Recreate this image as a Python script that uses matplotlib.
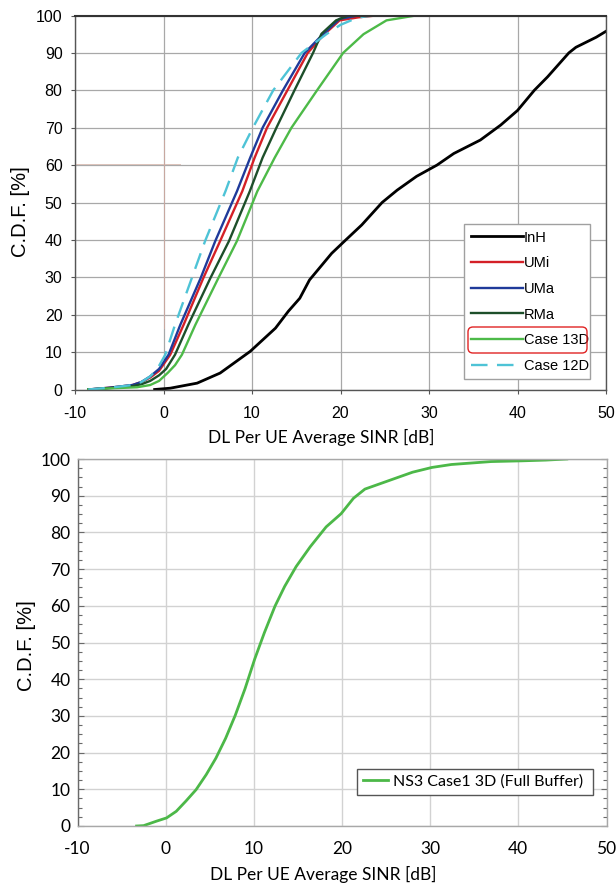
import matplotlib
matplotlib.use("Agg")
import matplotlib.pyplot as plt
from matplotlib.patches import FancyBboxPatch
from matplotlib.transforms import IdentityTransform
from matplotlib.ticker import MultipleLocator

plt.rcParams["axes.unicode_minus"] = False

# ---------------- data (top chart) ----------------
inh_x = [-1, 0.76, 3.8, 6.4, 9.8, 12.65, 14.1, 15.4, 16.5, 19.0, 20.6, 22.4, 24.7, 26.4, 28.6,
         30.9, 32.8, 35.8, 38.1, 40.0, 41.9, 43.4, 45.8, 46.6, 48.9, 50.5, 51.5]
inh_y = [0, 0.35, 1.7, 4.4, 10.2, 16.4, 20.9, 24.4, 29.3, 36.4, 40, 44, 50, 53.3, 57,
         60, 63.1, 66.7, 70.7, 74.6, 80, 83.6, 90, 91.5, 94.2, 96.5, 97.3]

umi_x = [-8.5, -6, -3.5, -2.5, -1.5, -0.5, 0.76, 2.27, 4.5, 6.4, 8.9, 10.3, 11.7, 14.0, 16.3, 18.0, 19.9, 22, 24]
umi_y = [0, 0.5, 1.2, 2, 3.2, 5, 9.3, 17.3, 29.8, 39.7, 53, 62, 70, 80, 90, 94.6, 98.7, 99.5, 100]

uma_x = [-8.5, -6, -3.5, -2.5, -1.5, -0.5, 0.57, 1.9, 4.2, 5.85, 8.3, 9.8, 11.2, 13.5, 15.96, 17.85, 19.9, 22]
uma_y = [0, 0.5, 1.2, 2, 3.5, 5.5, 9.3, 17.3, 29.8, 39.7, 53, 62, 70, 80, 90, 94.6, 99.1, 100]

rma_x = [-8.5, -6, -3.5, -2.5, -1.5, -0.5, 0.3, 1.3, 2.8, 5.3, 7.4, 9.75, 11.2, 12.76, 14.8, 16.9, 17.85, 19.5, 20.9]
rma_y = [0, 0.4, 0.9, 1.4, 2.3, 3.8, 5.5, 9.3, 17.3, 29.8, 39.7, 53, 62, 70, 80, 90, 95.1, 98.7, 100]

c13_x = [-8.5, -6, -3, -1.5, -0.5, 0.5, 1.3, 2.08, 3.6, 6.2, 8.3, 10.6, 12.57, 14.46, 17.35, 20.3, 22.6, 25.2, 28.5]
c13_y = [0, 0.3, 0.6, 1.2, 2.3, 4.5, 6.5, 9.3, 17.3, 29.8, 39.7, 53, 62, 70, 80, 90, 95, 98.7, 100]

c12_x = [-8.5, -6, -3.5, -2.5, -1.5, -0.7, 0.2, 1.3, 3.2, 4.7, 7.0, 8.4, 10.1, 12.4, 15.6, 18.4, 20, 22, 23.7]
c12_y = [0, 0.5, 1.2, 2, 3.5, 5.5, 9.3, 17.3, 29.8, 39.7, 53, 62, 70, 80, 90, 95, 97.5, 99.5, 100]

top_labels = ["InH", "UMi", "UMa", "RMa", "Case 13D", "Case 12D"]

# faint reddish cross artefact in the top chart
art_h_x = [-10, 1.86]
art_h_y = [60.2, 60.2]
art_v_x = [0, 0]
art_v_y = [16.5, 66.7]

# ---------------- data (bottom chart) ----------------
ns3_x = [-3.3, -2.5, -1.0, 0.1, 1.2, 2.3, 3.45, 4.6, 5.7, 6.8, 7.9, 9.0, 10.1, 11.2, 12.4, 13.5,
         14.8, 16.4, 18.2, 19.9, 21.3, 22.6, 25.3, 28.0, 30.2, 32.4, 36.9, 40.4, 43.1, 45.5]
ns3_y = [0, 0.1, 1.35, 2.2, 4, 6.8, 9.9, 14, 18.5, 23.9, 30.2, 37.4, 45.5, 52.7, 59.9, 65.3,
         70.7, 76.1, 81.5, 85.1, 89.3, 91.8, 94.1, 96.4, 97.7, 98.5, 99.3, 99.5, 99.7, 100]
ns3_label = "NS3 Case1 3D (Full Buffer)"

x_ticks = [-10, 0, 10, 20, 30, 40, 50]
y_ticks = [0, 10, 20, 30, 40, 50, 60, 70, 80, 90, 100]
x_label = "DL Per UE Average SINR [dB]"
y_label = "C.D.F. [%]"

# ---------------- figure ----------------
W, H = 616, 886
fig = plt.figure(figsize=(W / 100, H / 100), dpi=100)

ARIAL = ["Liberation Sans", "DejaVu Sans"]
CALIBRI = ["Lato", "DejaVu Sans"]

# ===== top chart =====
ax1 = fig.add_axes([75 / W, 1 - 389.5 / H, 531 / W, 374 / H])
ax1.set_xlim(-10, 50)
ax1.set_ylim(0, 100)
ax1.set_xticks(x_ticks)
ax1.set_yticks(y_ticks)
ax1.grid(True, color="#a8a8a8", lw=0.9)
ax1.set_axisbelow(True)

ax1.plot(art_h_x, art_h_y, color="#dcc2ba", lw=0.7, zorder=1.5)
ax1.plot(art_v_x, art_v_y, color="#caa8a0", lw=0.7, zorder=1.5)

lw = 1.7
ax1.plot(inh_x, inh_y, color="#000000", lw=2.0, label=top_labels[0])
ax1.plot(umi_x, umi_y, color="#d42027", lw=lw, label=top_labels[1])
ax1.plot(uma_x, uma_y, color="#1f3a9a", lw=lw, label=top_labels[2])
ax1.plot(rma_x, rma_y, color="#1d4f2a", lw=lw, label=top_labels[3])
ax1.plot(c13_x, c13_y, color="#4dba48", lw=lw, label=top_labels[4])
ax1.plot(c12_x, c12_y, color="#4ec3d6", lw=lw, linestyle=(0, (7, 4)), label=top_labels[5])

for side in ["left", "bottom", "right"]:
    ax1.spines[side].set_color("#555555")
    ax1.spines[side].set_linewidth(1.0)
ax1.spines["top"].set_color("#333333")
ax1.spines["top"].set_linewidth(1.5)

ax1.tick_params(axis="both", direction="out", length=3, width=0.8, color="#555555")
ax1.tick_params(axis="y", pad=6)
ax1.tick_params(axis="x", pad=9)
for t in ax1.get_xticklabels() + ax1.get_yticklabels():
    t.set_fontfamily(ARIAL)
    t.set_fontsize(11.5)

ax1.set_xlabel(x_label, fontfamily=CALIBRI, fontsize=12.5, va="center")
ax1.xaxis.set_label_coords((321 - 75) / 531, (389.5 - 437) / 374)
ax1.set_ylabel(y_label, fontfamily=ARIAL, fontsize=14.5, va="center")
ax1.yaxis.set_label_coords((21 - 75) / 531, (389.5 - 212) / 374)

leg1 = ax1.legend(loc="upper left",
                  bbox_to_anchor=((464 - 75) / 531, (389.5 - 376) / 374,
                                  (590 - 464) / 531, (376 - 224) / 374),
                  mode="expand", prop={"family": ARIAL, "size": 10.5},
                  handlelength=3.6, handletextpad=0.05, labelspacing=0.8,
                  borderpad=0.45, borderaxespad=0, fancybox=False,
                  framealpha=1, edgecolor="#a0a0a0")
leg1.get_frame().set_linewidth(1.0)

fig.add_artist(FancyBboxPatch((468, H - 353), 119, 26,
                              boxstyle="round,pad=0,rounding_size=5",
                              transform=IdentityTransform(),
                              ec="#e02424", fc="none", lw=1.0, zorder=10))

# ===== bottom chart =====
ax2 = fig.add_axes([77.5 / W, 1 - 826 / H, 529 / W, 367 / H])
ax2.set_xlim(-10, 50)
ax2.set_ylim(0, 100)
ax2.set_xticks(x_ticks)
ax2.set_yticks(y_ticks)
ax2.yaxis.set_minor_locator(MultipleLocator(2.5))
ax2.grid(True, which="major", color="#d2d2d2", lw=1.0)
ax2.set_axisbelow(True)

ax2.plot(ns3_x, ns3_y, color="#4cb848", lw=2.0, label=ns3_label)

for side in ["top", "bottom", "right"]:
    ax2.spines[side].set_color("#a8a8a8")
    ax2.spines[side].set_linewidth(1.0)
ax2.spines["left"].set_color("#6a6a6a")
ax2.spines["left"].set_linewidth(1.0)

ax2.tick_params(axis="y", which="both", direction="in", left=True, right=True,
                color="#6a6a6a", width=0.8)
ax2.tick_params(axis="y", which="major", length=4, pad=5)
ax2.tick_params(axis="y", which="minor", length=3)
ax2.tick_params(axis="x", direction="in", length=0, pad=11)
for t in ax2.get_xticklabels() + ax2.get_yticklabels():
    t.set_fontfamily(CALIBRI)
    t.set_fontsize(12.5)

ax2.set_xlabel(x_label, fontfamily=CALIBRI, fontsize=12.5, va="center")
ax2.xaxis.set_label_coords((323 - 77.5) / 529, (826 - 874) / 367)
ax2.set_ylabel(y_label, fontfamily=ARIAL, fontsize=14.5, va="center")
ax2.yaxis.set_label_coords((26.5 - 77.5) / 529, (826 - 645.5) / 367)

leg2 = ax2.legend(loc="upper left",
                  bbox_to_anchor=((357 - 77.5) / 529, (826 - 794) / 367,
                                  (592.5 - 357) / 529, (794 - 769) / 367),
                  mode="expand", prop={"family": CALIBRI, "size": 11.5},
                  handlelength=1.6, handletextpad=0.3, borderpad=0.35,
                  borderaxespad=0, fancybox=False, framealpha=1,
                  edgecolor="#555555")
leg2.get_frame().set_linewidth(1.0)

fig.savefig("out.png", dpi=100)
